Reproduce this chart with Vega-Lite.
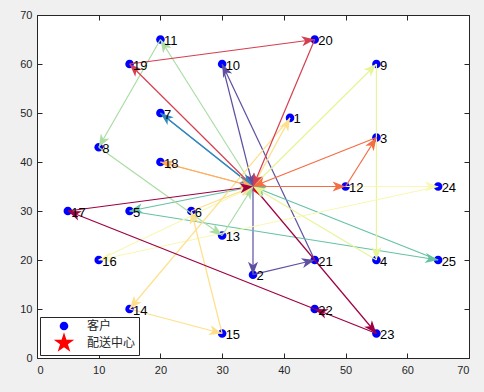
{
  "$schema": "https://vega.github.io/schema/vega-lite/v6.json",
  "width": 432,
  "height": 343,
  "autosize": "none",
  "padding": {"left": 37, "top": 15, "right": 15, "bottom": 34},
  "background": "#f0f0f0",
  "view": {"fill": "white", "stroke": null},
  "datasets": {
    "pts": [
      {"id": 0, "x": 35, "y": 35, "type": "配送中心"},
      {"id": 1, "x": 41, "y": 49, "type": "客户"},
      {"id": 2, "x": 35, "y": 17, "type": "客户"},
      {"id": 3, "x": 55, "y": 45, "type": "客户"},
      {"id": 4, "x": 55, "y": 20, "type": "客户"},
      {"id": 5, "x": 15, "y": 30, "type": "客户"},
      {"id": 6, "x": 25, "y": 30, "type": "客户"},
      {"id": 7, "x": 20, "y": 50, "type": "客户"},
      {"id": 8, "x": 10, "y": 43, "type": "客户"},
      {"id": 9, "x": 55, "y": 60, "type": "客户"},
      {"id": 10, "x": 30, "y": 60, "type": "客户"},
      {"id": 11, "x": 20, "y": 65, "type": "客户"},
      {"id": 12, "x": 50, "y": 35, "type": "客户"},
      {"id": 13, "x": 30, "y": 25, "type": "客户"},
      {"id": 14, "x": 15, "y": 10, "type": "客户"},
      {"id": 15, "x": 30, "y": 5, "type": "客户"},
      {"id": 16, "x": 10, "y": 20, "type": "客户"},
      {"id": 17, "x": 5, "y": 30, "type": "客户"},
      {"id": 18, "x": 20, "y": 40, "type": "客户"},
      {"id": 19, "x": 15, "y": 60, "type": "客户"},
      {"id": 20, "x": 45, "y": 65, "type": "客户"},
      {"id": 21, "x": 45, "y": 20, "type": "客户"},
      {"id": 22, "x": 45, "y": 10, "type": "客户"},
      {"id": 23, "x": 55, "y": 5, "type": "客户"},
      {"id": 24, "x": 65, "y": 35, "type": "客户"},
      {"id": 25, "x": 65, "y": 20, "type": "客户"}
    ],
    "segs": [
      {"r": 1, "a": 0, "b": 2}, {"r": 1, "a": 2, "b": 21}, {"r": 1, "a": 21, "b": 10}, {"r": 1, "a": 10, "b": 0},
      {"r": 2, "a": 0, "b": 7}, {"r": 2, "a": 7, "b": 0},
      {"r": 3, "a": 0, "b": 5}, {"r": 3, "a": 5, "b": 25}, {"r": 3, "a": 25, "b": 0},
      {"r": 4, "a": 0, "b": 11}, {"r": 4, "a": 11, "b": 8}, {"r": 4, "a": 8, "b": 13}, {"r": 4, "a": 13, "b": 0},
      {"r": 5, "a": 0, "b": 9}, {"r": 5, "a": 9, "b": 4}, {"r": 5, "a": 4, "b": 0},
      {"r": 6, "a": 0, "b": 24}, {"r": 6, "a": 24, "b": 16}, {"r": 6, "a": 16, "b": 0},
      {"r": 7, "a": 0, "b": 1}, {"r": 7, "a": 1, "b": 14}, {"r": 7, "a": 14, "b": 15}, {"r": 7, "a": 15, "b": 6}, {"r": 7, "a": 6, "b": 0},
      {"r": 8, "a": 0, "b": 18}, {"r": 8, "a": 18, "b": 0},
      {"r": 9, "a": 0, "b": 12}, {"r": 9, "a": 12, "b": 3}, {"r": 9, "a": 3, "b": 0},
      {"r": 10, "a": 0, "b": 19}, {"r": 10, "a": 19, "b": 20}, {"r": 10, "a": 20, "b": 0},
      {"r": 11, "a": 0, "b": 23}, {"r": 11, "a": 23, "b": 22}, {"r": 11, "a": 22, "b": 17}, {"r": 11, "a": 17, "b": 0}
    ]
  },
  "layer": [
    {
      "data": {"name": "pts"},
      "mark": {"type": "point", "filled": true, "size": 4, "opacity": 1, "strokeWidth": 0},
      "encoding": {
        "x": {"field": "x", "type": "quantitative", "scale": {"domain": [0, 70], "nice": false, "zero": false},
              "axis": {"orient": "bottom", "values": [0, 10, 20, 30, 40, 50, 60, 70], "tickSize": -5, "labelPadding": 11, "title": null}},
        "y": {"field": "y", "type": "quantitative", "scale": {"domain": [0, 70], "nice": false, "zero": false},
              "axis": {"orient": "left", "values": [0, 10, 20, 30, 40, 50, 60, 70], "tickSize": -5, "labelPadding": 10, "title": null}},
        "color": {"field": "type", "type": "nominal",
                  "scale": {"domain": ["客户", "配送中心"], "range": ["#0000ff", "#ff0000"]},
                  "legend": {"orient": "none", "legendX": 3, "legendY": 302, "title": null, "strokeColor": "#262626", "fillColor": "white", "padding": 3, "symbolSize": 4, "symbolStrokeWidth": 0, "symbolOffset": 15, "labelOffset": 17, "rowPadding": 0, "labelFont": "Noto Sans CJK SC", "labelFontSize": 12, "labelColor": "#262626", "cornerRadius": 0}},
        "shape": {"field": "type", "type": "nominal",
                  "scale": {"domain": ["客户", "配送中心"], "range": ["M-4.3,0A4.3,4.3 0 1,0 4.3,0A4.3,4.3 0 1,0 -4.3,0Z", "M0,-10.8L2.42,-3.34L10.27,-3.34L3.92,1.27L6.35,8.74L0,4.13L-6.35,8.74L-3.92,1.27L-10.27,-3.34L-2.42,-3.34Z"]},
                  "legend": {"orient": "none", "legendX": 3, "legendY": 302, "title": null, "strokeColor": "#262626", "fillColor": "white", "padding": 3, "symbolSize": 4, "symbolStrokeWidth": 0, "symbolOffset": 15, "labelOffset": 17, "rowPadding": 0, "labelFont": "Noto Sans CJK SC", "labelFontSize": 12, "labelColor": "#262626", "cornerRadius": 0}}
      }
    },
    {
      "data": {"name": "segs"},
      "transform": [
        {"lookup": "a", "from": {"data": {"name": "pts"}, "key": "id", "fields": ["x", "y"]}, "as": ["x1", "y1"]},
        {"lookup": "b", "from": {"data": {"name": "pts"}, "key": "id", "fields": ["x", "y"]}, "as": ["x2", "y2"]}
      ],
      "mark": {"type": "rule", "strokeWidth": 1.2},
      "encoding": {
        "x": {"field": "x1", "type": "quantitative", "axis": {"orient": "top", "values": [0, 10, 20, 30, 40, 50, 60, 70], "tickSize": -5, "labels": false, "title": null}},
        "y": {"field": "y1", "type": "quantitative", "axis": {"orient": "right", "values": [0, 10, 20, 30, 40, 50, 60, 70], "tickSize": -5, "labels": false, "title": null}},
        "x2": {"field": "x2"},
        "y2": {"field": "y2"},
        "color": {"field": "r", "type": "nominal", "legend": null,
                  "scale": {"domain": [1, 2, 3, 4, 5, 6, 7, 8, 9, 10, 11], "range": ["#5e4fa2", "#3288bd", "#66c2a5", "#abdda4", "#e6f598", "#f8f8b4", "#fee08b", "#fdae61", "#f46d43", "#d53e4f", "#9e0142"]}}
      }
    },
    {
      "data": {"name": "segs"},
      "transform": [
        {"lookup": "a", "from": {"data": {"name": "pts"}, "key": "id", "fields": ["x", "y"]}, "as": ["x1", "y1"]},
        {"lookup": "b", "from": {"data": {"name": "pts"}, "key": "id", "fields": ["x", "y"]}, "as": ["x2", "y2"]},
        {"calculate": "atan2((datum.x2 - datum.x1) * 432 / 70, (datum.y2 - datum.y1) * 343 / 70) * 180 / PI", "as": "ang"}
      ],
      "mark": {"type": "point", "shape": "M0,0L-5,13L0,9.5L5,13Z", "filled": true, "size": 4, "opacity": 1, "strokeWidth": 0},
      "encoding": {
        "x": {"field": "x2", "type": "quantitative", "axis": null},
        "y": {"field": "y2", "type": "quantitative", "axis": null},
        "angle": {"field": "ang", "type": "quantitative", "scale": null},
        "color": {"field": "r", "type": "nominal", "legend": null,
                  "scale": {"domain": [1, 2, 3, 4, 5, 6, 7, 8, 9, 10, 11], "range": ["#5e4fa2", "#3288bd", "#66c2a5", "#abdda4", "#e6f598", "#f8f8b4", "#fee08b", "#fdae61", "#f46d43", "#d53e4f", "#9e0142"]}}
      }
    },
    {
      "data": {"name": "pts"},
      "transform": [{"filter": "datum.id > 0"}],
      "mark": {"type": "text", "align": "left", "baseline": "middle", "dx": 3.5, "dy": 1.5, "font": "Liberation Sans", "fontSize": 13, "color": "black"},
      "encoding": {
        "x": {"field": "x", "type": "quantitative", "axis": null},
        "y": {"field": "y", "type": "quantitative", "axis": null},
        "text": {"field": "id", "type": "nominal"}
      }
    }
  ],
  "resolve": {"scale": {"color": "independent", "shape": "independent"}, "axis": {"x": "independent", "y": "independent"}},
  "config": {
    "axis": {"grid": false, "domainColor": "#262626", "domainWidth": 1, "tickColor": "#262626", "tickWidth": 1, "labelColor": "#262626", "labelFont": "Liberation Sans", "labelFontSize": 11}
  }
}
